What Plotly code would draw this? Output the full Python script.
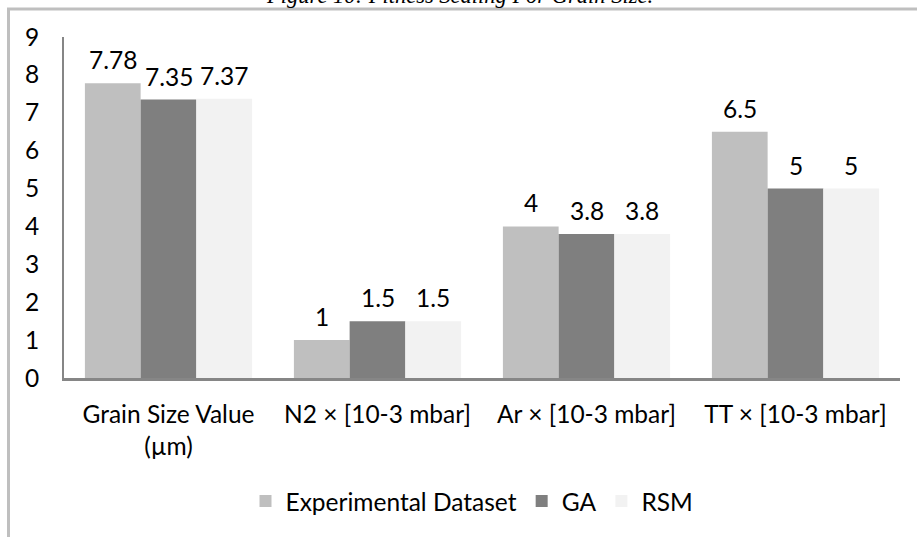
import plotly.graph_objects as go

# Data
categories = ["Grain Size Value<br>(µm)", "N2 × [10-3 mbar]", "Ar × [10-3 mbar]", "TT × [10-3 mbar]"]
series_names = ["Experimental Dataset", "GA", "RSM"]
experimental = [7.78, 1, 4, 6.5]
ga = [7.35, 1.5, 3.8, 5]
rsm = [7.37, 1.5, 3.8, 5]
series_values = [experimental, ga, rsm]
colors = ["#bfbfbf", "#7f7f7f", "#f2f2f2"]
y_ticks = list(range(0, 10))
caption = "Figure 10: Fitness Scaling For Grain Size."

# Layout geometry
W, H = 917, 537
M_L, M_R, M_T, M_B = 64, 17, 36.5, 158.5
BARGAP = 0.2
FONT = "Lato, Carlito, Calibri, sans-serif"
FS = 24.5

plot_w = W - M_L - M_R
plot_h = H - M_T - M_B
cat_w = plot_w / len(categories)
bar_w = cat_w * (1 - BARGAP) / len(series_names)

fig = go.Figure()
for name, vals, col in zip(series_names, series_values, colors):
    fig.add_trace(go.Bar(
        x=categories, y=vals, name=name,
        marker=dict(color=col, line=dict(width=0)),
        hoverinfo="x+y+name",
    ))

# Value labels above each bar
annotations = []
for i, vals in enumerate(series_values):
    offset = (i - (len(series_names) - 1) / 2) * bar_w
    for cat, v in zip(categories, vals):
        annotations.append(dict(
            x=cat, y=v, xref="x", yref="y", text=f"{v:g}",
            showarrow=False, xanchor="center", yanchor="bottom",
            xshift=offset, yshift=7,
            font=dict(family=FONT, size=FS, color="#000000"),
        ))

# Caption sitting just above the chart frame
annotations.append(dict(
    x=(459 - M_L) / plot_w, xref="paper", xanchor="center",
    y=1 + (M_T - 9.5) / plot_h, yref="paper", yanchor="bottom",
    text=f"<i>{caption}</i>", showarrow=False,
    font=dict(family="Liberation Serif, Times New Roman, serif", size=22.5, color="#000000"),
))

# Outer chart frame
frame_px = 8.5
shapes = [dict(
    type="rect", xref="paper", yref="paper",
    x0=(frame_px - M_L) / plot_w, x1=(W + 40 - M_L) / plot_w,
    y0=-(M_B + 40) / plot_h, y1=1 + (M_T - frame_px) / plot_h,
    line=dict(color="#bfbfbf", width=3), fillcolor="rgba(0,0,0,0)", layer="below",
)]

fig.update_layout(
    width=W, height=H,
    margin=dict(l=M_L, r=M_R, t=M_T, b=M_B, pad=0),
    paper_bgcolor="white", plot_bgcolor="white",
    barmode="group", bargap=BARGAP, bargroupgap=0,
    font=dict(family=FONT, size=FS, color="#000000"),
    showlegend=True,
    legend=dict(
        orientation="h", x=(472 - M_L) / plot_w, xanchor="center",
        y=-(502 - (M_T + plot_h)) / plot_h, yanchor="middle",
        font=dict(family=FONT, size=FS, color="#000000"),
        itemsizing="constant", traceorder="normal",
        itemwidth=30,
    ),
    annotations=annotations,
    shapes=shapes,
)

fig.update_xaxes(
    showgrid=False, zeroline=False,
    showline=True, linecolor="#868686", linewidth=2.5,
    ticks="outside", ticklen=13, tickcolor="rgba(0,0,0,0)",
    tickfont=dict(family=FONT, size=FS, color="#000000"),
)
fig.update_yaxes(
    range=[0, 9], tickvals=y_ticks,
    showgrid=False, zeroline=False,
    showline=True, linecolor="#868686", linewidth=2,
    ticks="outside", ticklen=18, tickcolor="rgba(0,0,0,0)",
    tickfont=dict(family=FONT, size=FS, color="#000000"),
)

fig.write_html("out.html")
